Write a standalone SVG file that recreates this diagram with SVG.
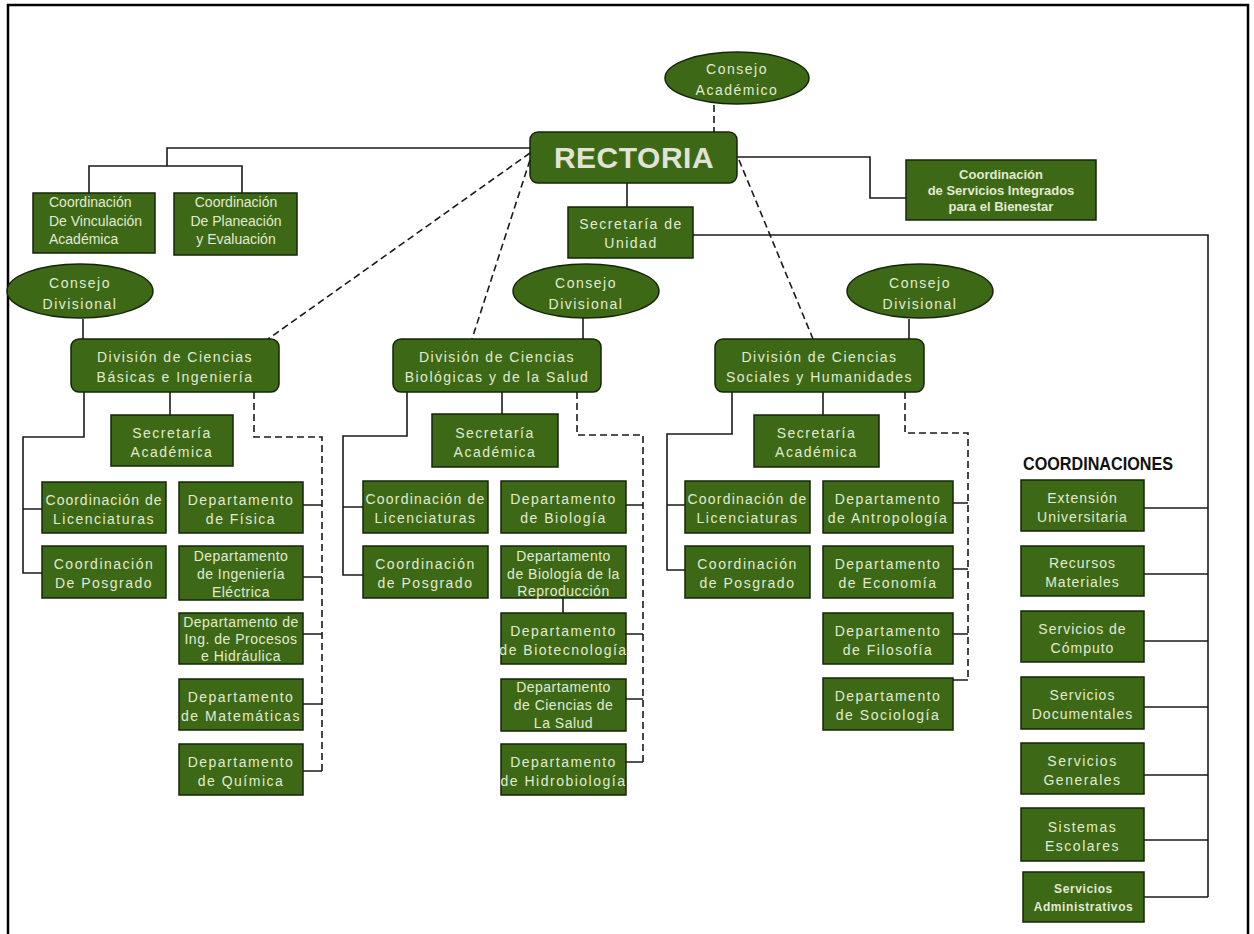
<svg xmlns="http://www.w3.org/2000/svg" width="1254" height="934" viewBox="0 0 1254 934">
<style>
.b{fill:#3d6916;stroke:#16240a;stroke-width:1.5}
.t{font-family:"Liberation Sans",Arial,sans-serif;font-size:14px;fill:#e2ead2;text-anchor:middle;letter-spacing:1.5px}
.t3{font-family:"Liberation Sans",Arial,sans-serif;font-size:14px;fill:#e2ead2;text-anchor:middle;letter-spacing:0.5px}
.tp{font-family:"Liberation Sans",Arial,sans-serif;font-size:14px;fill:#e2ead2;text-anchor:middle}
.tb{font-family:"Liberation Sans",Arial,sans-serif;font-size:13px;font-weight:bold;fill:#e2ead2;text-anchor:middle}
.l{fill:none;stroke:#1a1a1a;stroke-width:1.6}
.d{fill:none;stroke:#1a1a1a;stroke-width:1.6;stroke-dasharray:7 4}
</style>
<rect width="1254" height="934" fill="#ffffff"/>
<path d="M8,934 V5 H1248 V934" fill="none" stroke="#000" stroke-width="2.5"/>

<g id="connectors">
  <path class="d" d="M714,105 V132"/>
  <path class="l" d="M530,148 H167 V166 M89,193 V166 H242 V193"/>
  <path class="l" d="M737,157 H870 V198 H906"/>
  <path class="l" d="M627,183 V207"/>
  <path class="l" d="M693,235 H1208 V897"/>
  <path class="d" d="M530,153 L268,339"/>
  <path class="d" d="M530,160 L472,339"/>
  <path class="d" d="M739,160 L813,339"/>
  <path class="l" d="M83,319 V339"/>
  <path class="l" d="M583,318 V339"/>
  <path class="l" d="M909,319 V339"/>
  <!-- left division -->
  <path class="l" d="M84,392 V437 H23 V573 H42 M23,509 H42"/>
  <path class="l" d="M170,392 V415"/>
  <path class="d" d="M254,392 V437 H322 V771"/>
  <path class="l" d="M303,505 H322 M303,577 H322 M303,634 H322 M303,704 H322 M303,771 H322"/>
  <!-- middle division -->
  <path class="l" d="M407,392 V436 H343 V575 H363 M343,507 H363"/>
  <path class="l" d="M502,392 V414"/>
  <path class="d" d="M577,392 V435 H643 V762"/>
  <path class="l" d="M626,505 H643 M626,634 H643 M626,699 H643 M626,762 H643"/>
  <path class="l" d="M563,598 V613" stroke-width="1"/>
  <!-- right division -->
  <path class="l" d="M732,392 V434 H667 V570 H685 M667,505 H685"/>
  <path class="l" d="M823,392 V415"/>
  <path class="d" d="M905,392 V433 H968 V680"/>
  <path class="l" d="M953,503 H968 M953,569 H968 M953,634 H968 M953,680 H968"/>
  <!-- coordinaciones -->
  <path class="l" d="M1144,508 H1208 M1144,574 H1208 M1144,641 H1208 M1144,707 H1208 M1144,775 H1208 M1144,840 H1208 M1144,897 H1208"/>
</g>

<g id="consejo-academico">
  <ellipse class="b" cx="737" cy="78" rx="72" ry="26"/>
  <text class="t" x="737" y="74">Consejo</text>
  <text class="t" x="737" y="95">Académico</text>
</g>
<g id="rectoria">
  <rect class="b" x="530" y="132" width="207" height="51" rx="8"/>
  <text x="634" y="168" font-family="Liberation Sans, Arial, sans-serif" font-size="30" font-weight="bold" fill="#e0e3d6" text-anchor="middle" letter-spacing="0.5">RECTORIA</text>
</g>
<g id="coord-vinculacion">
  <rect class="b" x="33" y="193" width="122" height="60"/>
  <text class="tp" x="49" y="207" text-anchor="start" style="text-anchor:start">Coordinación</text>
  <text class="tp" x="49" y="226" style="text-anchor:start">De Vinculación</text>
  <text class="tp" x="49" y="244" style="text-anchor:start">Académica</text>
</g>
<g id="coord-planeacion">
  <rect class="b" x="174" y="193" width="123" height="62"/>
  <text class="tp" x="236" y="207">Coordinación</text>
  <text class="tp" x="236" y="226">De Planeación</text>
  <text class="tp" x="236" y="244">y Evaluación</text>
</g>
<g id="coord-bienestar">
  <rect class="b" x="906" y="160" width="190" height="60"/>
  <text class="tb" x="1001" y="179">Coordinación</text>
  <text class="tb" x="1001" y="195">de Servicios Integrados</text>
  <text class="tb" x="1001" y="211">para el Bienestar</text>
</g>
<g id="secretaria-unidad">
  <rect class="b" x="568" y="207" width="125" height="51"/>
  <text class="t" x="631" y="229">Secretaría de</text>
  <text class="t" x="631" y="248">Unidad</text>
</g>

<g id="consejo-div-1">
  <ellipse class="b" cx="80" cy="291" rx="73" ry="27"/>
  <text class="t" x="80" y="288">Consejo</text>
  <text class="t" x="80" y="309">Divisional</text>
</g>
<g id="consejo-div-2">
  <ellipse class="b" cx="586" cy="291" rx="73" ry="27"/>
  <text class="t" x="586" y="288">Consejo</text>
  <text class="t" x="586" y="309">Divisional</text>
</g>
<g id="consejo-div-3">
  <ellipse class="b" cx="920" cy="291" rx="73" ry="27"/>
  <text class="t" x="920" y="288">Consejo</text>
  <text class="t" x="920" y="309">Divisional</text>
</g>

<!-- Left division -->
<g id="div-cbi">
  <rect class="b" x="71" y="339" width="208" height="53" rx="8"/>
  <text class="t" x="175" y="362">División de Ciencias</text>
  <text class="t" x="175" y="382">Básicas e Ingeniería</text>
</g>
<g id="cbi-secretaria">
  <rect class="b" x="111" y="415" width="122" height="51"/>
  <text class="t" x="172" y="437.5">Secretaría</text>
  <text class="t" x="172" y="456.5">Académica</text>
</g>
<g id="cbi-lic">
  <rect class="b" x="42" y="482" width="124" height="51"/>
  <text class="t" x="104" y="504.5" style="letter-spacing:1px">Coordinación de</text>
  <text class="t" x="104" y="523.5">Licenciaturas</text>
</g>
<g id="cbi-posgrado">
  <rect class="b" x="42" y="546" width="124" height="52"/>
  <text class="t" x="104" y="569">Coordinación</text>
  <text class="t" x="104" y="588">De Posgrado</text>
</g>
<g id="cbi-fisica">
  <rect class="b" x="179" y="482" width="124" height="51"/>
  <text class="t" x="241" y="504.5">Departamento</text>
  <text class="t" x="241" y="523.5">de Física</text>
</g>
<g id="cbi-electrica">
  <rect class="b" x="179" y="546" width="124" height="54"/>
  <text class="t3" x="241" y="561">Departamento</text>
  <text class="t3" x="241" y="579">de Ingeniería</text>
  <text class="t3" x="241" y="597">Eléctrica</text>
</g>
<g id="cbi-procesos">
  <rect class="b" x="179" y="613" width="124" height="51"/>
  <text class="t3" x="241" y="627">Departamento de</text>
  <text class="t3" x="241" y="644">Ing. de Procesos</text>
  <text class="t3" x="241" y="661">e Hidráulica</text>
</g>
<g id="cbi-matematicas">
  <rect class="b" x="179" y="679" width="124" height="51"/>
  <text class="t" x="241" y="701.5">Departamento</text>
  <text class="t" x="241" y="720.5">de Matemáticas</text>
</g>
<g id="cbi-quimica">
  <rect class="b" x="179" y="744" width="124" height="51"/>
  <text class="t" x="241" y="766.5">Departamento</text>
  <text class="t" x="241" y="785.5">de Química</text>
</g>

<!-- Middle division -->
<g id="div-cbs">
  <rect class="b" x="393" y="339" width="208" height="53" rx="8"/>
  <text class="t" x="497" y="362">División de Ciencias</text>
  <text class="t" x="497" y="382">Biológicas y de la Salud</text>
</g>
<g id="cbs-secretaria">
  <rect class="b" x="432" y="414" width="126" height="53"/>
  <text class="t" x="495" y="437.5">Secretaría</text>
  <text class="t" x="495" y="456.5">Académica</text>
</g>
<g id="cbs-lic">
  <rect class="b" x="363" y="481" width="125" height="52"/>
  <text class="t" x="425.5" y="504" style="letter-spacing:1.2px">Coordinación de</text>
  <text class="t" x="425.5" y="523">Licenciaturas</text>
</g>
<g id="cbs-posgrado">
  <rect class="b" x="363" y="546" width="125" height="52"/>
  <text class="t" x="425.5" y="569">Coordinación</text>
  <text class="t" x="425.5" y="588">de Posgrado</text>
</g>
<g id="cbs-biologia">
  <rect class="b" x="501" y="481" width="125" height="52"/>
  <text class="t" x="563.5" y="504">Departamento</text>
  <text class="t" x="563.5" y="523">de Biología</text>
</g>
<g id="cbs-reproduccion">
  <rect class="b" x="501" y="546" width="125" height="52"/>
  <text class="t3" x="563.5" y="561">Departamento</text>
  <text class="t3" x="563.5" y="579">de Biología de la</text>
  <text class="t3" x="563.5" y="596">Reproducción</text>
</g>
<g id="cbs-biotecnologia">
  <rect class="b" x="501" y="613" width="125" height="51"/>
  <text class="t" x="563.5" y="635.5">Departamento</text>
  <text class="t" x="563.5" y="654.5">de Biotecnología</text>
</g>
<g id="cbs-salud">
  <rect class="b" x="501" y="679" width="125" height="52"/>
  <text class="t3" x="563.5" y="692">Departamento</text>
  <text class="t3" x="563.5" y="710">de Ciencias de</text>
  <text class="t3" x="563.5" y="728">La Salud</text>
</g>
<g id="cbs-hidrobiologia">
  <rect class="b" x="501" y="744" width="125" height="51"/>
  <text class="t" x="563.5" y="766.5">Departamento</text>
  <text class="t" x="563.5" y="785.5">de Hidrobiología</text>
</g>

<!-- Right division -->
<g id="div-csh">
  <rect class="b" x="715" y="339" width="209" height="53" rx="8"/>
  <text class="t" x="819.5" y="362">División de Ciencias</text>
  <text class="t" x="819.5" y="382">Sociales y Humanidades</text>
</g>
<g id="csh-secretaria">
  <rect class="b" x="754" y="415" width="125" height="52"/>
  <text class="t" x="816.5" y="438">Secretaría</text>
  <text class="t" x="816.5" y="457">Académica</text>
</g>
<g id="csh-lic">
  <rect class="b" x="685" y="481" width="125" height="52"/>
  <text class="t" x="747.5" y="504" style="letter-spacing:1.2px">Coordinación de</text>
  <text class="t" x="747.5" y="523">Licenciaturas</text>
</g>
<g id="csh-posgrado">
  <rect class="b" x="685" y="546" width="125" height="52"/>
  <text class="t" x="747.5" y="569">Coordinación</text>
  <text class="t" x="747.5" y="588">de Posgrado</text>
</g>
<g id="csh-antropologia">
  <rect class="b" x="823" y="481" width="130" height="52"/>
  <text class="t" x="888" y="504">Departamento</text>
  <text class="t" x="888" y="523">de Antropología</text>
</g>
<g id="csh-economia">
  <rect class="b" x="823" y="546" width="130" height="52"/>
  <text class="t" x="888" y="569">Departamento</text>
  <text class="t" x="888" y="588">de Economía</text>
</g>
<g id="csh-filosofia">
  <rect class="b" x="823" y="613" width="130" height="51"/>
  <text class="t" x="888" y="635.5">Departamento</text>
  <text class="t" x="888" y="654.5">de Filosofía</text>
</g>
<g id="csh-sociologia">
  <rect class="b" x="823" y="678" width="130" height="52"/>
  <text class="t" x="888" y="701">Departamento</text>
  <text class="t" x="888" y="720">de Sociología</text>
</g>

<!-- Coordinaciones -->
<text x="1023" y="470" font-family="Liberation Sans, Arial, sans-serif" font-size="19" font-weight="bold" fill="#111" textLength="150" lengthAdjust="spacingAndGlyphs">COORDINACIONES</text>
<g id="c-extension">
  <rect class="b" x="1021" y="480" width="123" height="51"/>
  <text class="t" x="1082.5" y="502.5" style="letter-spacing:1px">Extensión</text>
  <text class="t" x="1082.5" y="521.5" style="letter-spacing:1px">Universitaria</text>
</g>
<g id="c-recursos">
  <rect class="b" x="1021" y="546" width="123" height="50"/>
  <text class="t" x="1082.5" y="568" style="letter-spacing:1px">Recursos</text>
  <text class="t" x="1082.5" y="587" style="letter-spacing:1px">Materiales</text>
</g>
<g id="c-computo">
  <rect class="b" x="1021" y="611" width="123" height="51"/>
  <text class="t" x="1082.5" y="633.5" style="letter-spacing:1px">Servicios de</text>
  <text class="t" x="1082.5" y="652.5" style="letter-spacing:1px">Cómputo</text>
</g>
<g id="c-documentales">
  <rect class="b" x="1021" y="677" width="123" height="52"/>
  <text class="t" x="1082.5" y="700" style="letter-spacing:1px">Servicios</text>
  <text class="t" x="1082.5" y="719" style="letter-spacing:1px">Documentales</text>
</g>
<g id="c-generales">
  <rect class="b" x="1021" y="743" width="123" height="51"/>
  <text class="t" x="1082.5" y="765.5" style="letter-spacing:1.5px">Servicios</text>
  <text class="t" x="1082.5" y="784.5" style="letter-spacing:1.5px">Generales</text>
</g>
<g id="c-escolares">
  <rect class="b" x="1021" y="808" width="123" height="53"/>
  <text class="t" x="1082.5" y="831.5" style="letter-spacing:1.5px">Sistemas</text>
  <text class="t" x="1082.5" y="850.5" style="letter-spacing:1.5px">Escolares</text>
</g>
<g id="c-administrativos">
  <rect class="b" x="1023" y="872" width="121" height="50"/>
  <text class="tb" x="1083.5" y="893" style="font-size:12px;letter-spacing:0.6px">Servicios</text>
  <text class="tb" x="1083.5" y="911" style="font-size:12px;letter-spacing:0.6px">Administrativos</text>
</g>
</svg>
